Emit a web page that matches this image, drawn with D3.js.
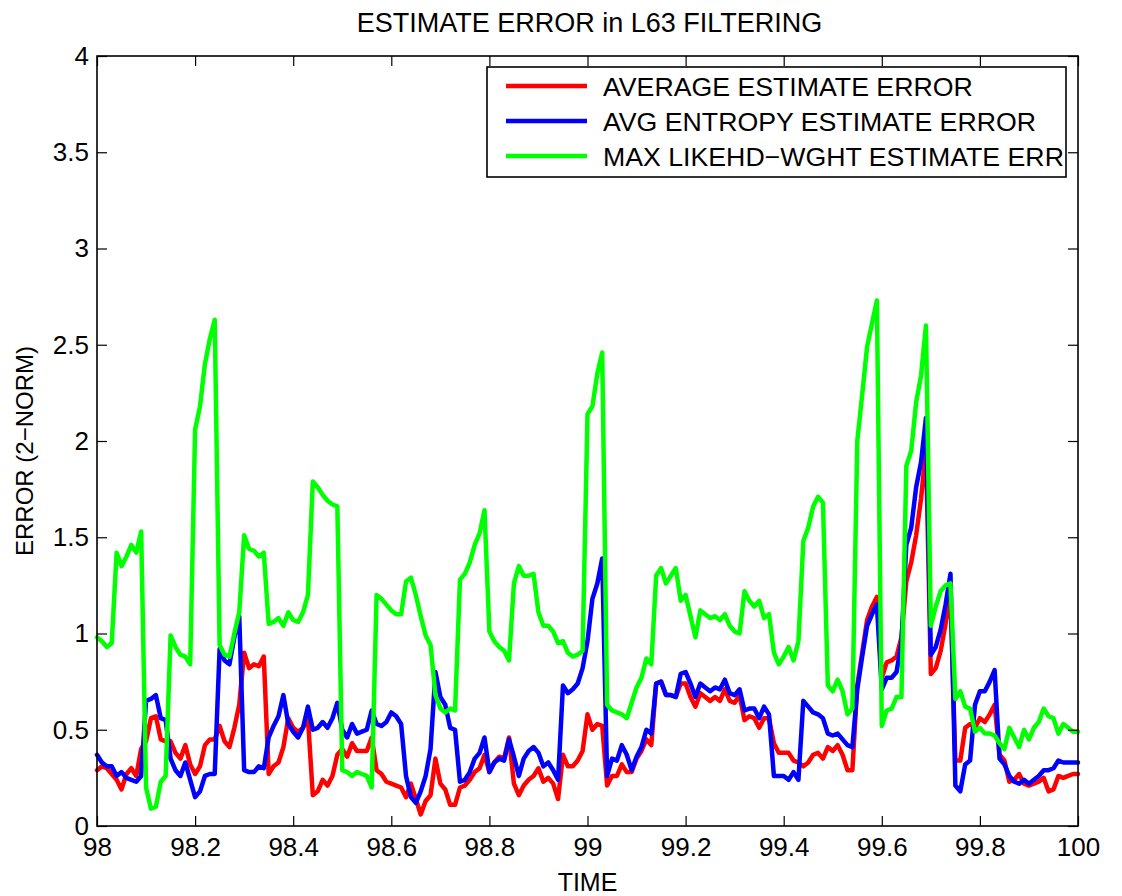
<!DOCTYPE html>
<html>
<head>
<meta charset="utf-8">
<script src="https://cdn.jsdelivr.net/npm/d3@7"></script>
<style>
  html, body { margin: 0; padding: 0; background: #fff; }
  svg { display: block; font-family: "Liberation Sans", Arial, Helvetica, sans-serif; }
</style>
</head>
<body>
<svg id="chart" width="1122" height="896"></svg>
<script>
// Sampling grid: 201 samples from t = 98 to t = 100
const timeStart = 98;
const timeStep = 0.01;

// Average estimate error
const avgError = [
  0.29, 0.31, 0.30, 0.27, 0.24, 0.19, 0.27, 0.30, 0.26, 0.40,
  0.44, 0.56, 0.57, 0.45, 0.44, 0.44, 0.38, 0.35, 0.42, 0.32,
  0.27, 0.31, 0.42, 0.45, 0.45, 0.52, 0.44, 0.41, 0.51, 0.63,
  0.90, 0.82, 0.84, 0.83, 0.88, 0.27, 0.31, 0.33, 0.41, 0.56,
  0.51, 0.49, 0.51, 0.56, 0.16, 0.18, 0.24, 0.21, 0.26, 0.37,
  0.40, 0.36, 0.43, 0.39, 0.39, 0.39, 0.46, 0.29, 0.27, 0.23,
  0.22, 0.21, 0.20, 0.15, 0.22, 0.14, 0.06, 0.13, 0.16, 0.35,
  0.22, 0.19, 0.11, 0.11, 0.20, 0.21, 0.24, 0.28, 0.30, 0.37,
  0.28, 0.33, 0.36, 0.35, 0.46, 0.22, 0.16, 0.21, 0.24, 0.26,
  0.30, 0.23, 0.25, 0.22, 0.14, 0.37, 0.31, 0.31, 0.34, 0.39,
  0.58, 0.50, 0.53, 0.52, 0.21, 0.26, 0.26, 0.32, 0.28, 0.28,
  0.35, 0.39, 0.45, 0.42, 0.74, 0.75, 0.68, 0.68, 0.67, 0.74,
  0.74, 0.67, 0.62, 0.69, 0.67, 0.65, 0.67, 0.65, 0.71, 0.65,
  0.64, 0.68, 0.55, 0.57, 0.56, 0.51, 0.56, 0.56, 0.43, 0.38,
  0.38, 0.38, 0.34, 0.33, 0.31, 0.33, 0.37, 0.38, 0.35, 0.41,
  0.39, 0.42, 0.37, 0.29, 0.29, 0.73, 0.90, 1.07, 1.14, 1.19,
  0.77, 0.85, 0.86, 0.88, 0.98, 1.27, 1.37, 1.51, 1.70, 1.96,
  0.79, 0.82, 0.91, 1.05, 1.20, 0.34, 0.34, 0.51, 0.53, 0.51,
  0.56, 0.54, 0.58, 0.63, 0.37, 0.34, 0.23, 0.24, 0.27, 0.22,
  0.21, 0.22, 0.23, 0.25, 0.18, 0.19, 0.26, 0.25, 0.26, 0.27,
  0.27
];

// Average entropy estimate error
const entropyError = [
  0.37, 0.33, 0.31, 0.31, 0.26, 0.28, 0.25, 0.24, 0.23, 0.26,
  0.65, 0.66, 0.68, 0.56, 0.55, 0.35, 0.29, 0.26, 0.33, 0.24,
  0.15, 0.18, 0.26, 0.27, 0.27, 0.92, 0.86, 0.84, 0.98, 1.09,
  0.29, 0.28, 0.28, 0.31, 0.30, 0.46, 0.52, 0.57, 0.68, 0.53,
  0.49, 0.46, 0.51, 0.62, 0.50, 0.51, 0.54, 0.51, 0.56, 0.64,
  0.50, 0.46, 0.53, 0.48, 0.49, 0.50, 0.60, 0.53, 0.52, 0.54,
  0.59, 0.57, 0.53, 0.26, 0.15, 0.12, 0.18, 0.26, 0.40, 0.80,
  0.67, 0.63, 0.51, 0.50, 0.23, 0.24, 0.28, 0.35, 0.38, 0.46,
  0.28, 0.33, 0.35, 0.34, 0.45, 0.36, 0.26, 0.35, 0.39, 0.41,
  0.38, 0.31, 0.33, 0.29, 0.24, 0.73, 0.69, 0.71, 0.74, 0.82,
  0.96, 1.18, 1.26, 1.39, 0.26, 0.35, 0.34, 0.42, 0.37, 0.29,
  0.36, 0.41, 0.50, 0.48, 0.74, 0.75, 0.68, 0.68, 0.67, 0.79,
  0.80, 0.74, 0.67, 0.74, 0.72, 0.70, 0.72, 0.71, 0.76, 0.69,
  0.68, 0.71, 0.60, 0.61, 0.61, 0.56, 0.62, 0.58, 0.26, 0.26,
  0.26, 0.24, 0.28, 0.24, 0.65, 0.62, 0.59, 0.58, 0.56, 0.48,
  0.47, 0.48, 0.45, 0.42, 0.41, 0.71, 0.88, 1.04, 1.10, 1.15,
  0.71, 0.77, 0.77, 0.80, 0.95, 1.46, 1.55, 1.76, 1.89, 2.12,
  0.89, 0.93, 1.02, 1.15, 1.31, 0.21, 0.18, 0.32, 0.34, 0.63,
  0.70, 0.70, 0.75, 0.81, 0.35, 0.32, 0.26, 0.23, 0.22, 0.24,
  0.22, 0.24, 0.26, 0.29, 0.29, 0.30, 0.34, 0.33, 0.33, 0.33,
  0.33
];

// Max likelihood-weighted estimate error
const maxLikeError = [
  0.98, 0.96, 0.93, 0.95, 1.42, 1.35, 1.40, 1.46, 1.42, 1.53,
  0.20, 0.09, 0.10, 0.23, 0.26, 0.99, 0.93, 0.89, 0.88, 0.84,
  2.06, 2.18, 2.40, 2.53, 2.63, 0.94, 0.89, 0.88, 1.00, 1.11,
  1.51, 1.44, 1.43, 1.40, 1.42, 1.05, 1.06, 1.08, 1.04, 1.11,
  1.07, 1.06, 1.11, 1.20, 1.79, 1.76, 1.72, 1.69, 1.67, 1.66,
  0.29, 0.28, 0.26, 0.28, 0.27, 0.26, 0.20, 1.20, 1.18, 1.15,
  1.12, 1.10, 1.10, 1.27, 1.29, 1.20, 1.09, 0.99, 0.94, 0.68,
  0.61, 0.59, 0.61, 0.60, 1.28, 1.31, 1.37, 1.46, 1.52, 1.64,
  1.01, 0.96, 0.93, 0.91, 0.86, 1.26, 1.35, 1.30, 1.30, 1.31,
  1.11, 1.04, 1.04, 1.01, 0.95, 0.96, 0.90, 0.88, 0.89, 0.91,
  2.14, 2.18, 2.35, 2.46, 0.63, 0.60, 0.59, 0.58, 0.56, 0.64,
  0.72, 0.77, 0.87, 0.84, 1.30, 1.34, 1.26, 1.30, 1.34, 1.17,
  1.20, 1.09, 0.98, 1.12, 1.10, 1.08, 1.09, 1.07, 1.10, 1.04,
  1.01, 1.00, 1.22, 1.17, 1.14, 1.17, 1.08, 1.10, 0.90, 0.84,
  0.88, 0.93, 0.86, 0.96, 1.48, 1.55, 1.66, 1.71, 1.68, 0.73,
  0.70, 0.76, 0.70, 0.58, 0.61, 2.00, 2.24, 2.49, 2.61, 2.73,
  0.52, 0.60, 0.61, 0.67, 0.67, 1.87, 1.95, 2.20, 2.34, 2.60,
  1.04, 1.14, 1.22, 1.25, 1.26, 0.66, 0.70, 0.62, 0.61, 0.49,
  0.51, 0.48, 0.48, 0.47, 0.43, 0.40, 0.51, 0.46, 0.41, 0.50,
  0.45, 0.51, 0.54, 0.61, 0.57, 0.56, 0.48, 0.53, 0.51, 0.49,
  0.49
];

const seriesNames = [
  "AVERAGE ESTIMATE ERROR",
  "AVG ENTROPY ESTIMATE ERROR",
  "MAX LIKEHD\u2212WGHT ESTIMATE ERR"
];
const seriesColors = ["#ff0000", "#0000ff", "#00ff00"];

const xTicks = [98, 98.2, 98.4, 98.6, 98.8, 99, 99.2, 99.4, 99.6, 99.8, 100];
const yTicks = [0, 0.5, 1, 1.5, 2, 2.5, 3, 3.5, 4];

const titleText = "ESTIMATE ERROR in L63 FILTERING";
const xLabelText = "TIME";
const yLabelText = "ERROR  (2\u2212NORM)";

// ---- layout ----
const plot = { left: 97, right: 1078, top: 56, bottom: 826 };
const tickLen = 10;

const svg = d3.select("#chart");

const x = d3.scaleLinear().domain([98, 100]).range([plot.left, plot.right]);
const y = d3.scaleLinear().domain([0, 4]).range([plot.bottom, plot.top]);

const allSeries = [avgError, entropyError, maxLikeError].map((vals, k) => ({
  name: seriesNames[k],
  color: seriesColors[k],
  points: vals.map((v, i) => ({ t: timeStart + i * timeStep, v }))
}));

// data lines (red, then blue, then green on top)
const line = d3.line().x(d => x(d.t)).y(d => y(d.v));
svg.append("g")
  .selectAll("path")
  .data(allSeries)
  .join("path")
  .attr("d", d => line(d.points))
  .attr("fill", "none")
  .attr("stroke", d => d.color)
  .attr("stroke-width", 4.5)
  .attr("stroke-linejoin", "round")
  .attr("stroke-linecap", "round");

// axes with inward ticks on all four sides
const fmt = d => String(d);
const axisFont = 26;

const gBottom = svg.append("g")
  .attr("transform", `translate(0,${plot.bottom})`)
  .call(d3.axisBottom(x).tickValues(xTicks).tickFormat(fmt)
    .tickSizeInner(-tickLen).tickSizeOuter(0).tickPadding(12));
const gTop = svg.append("g")
  .attr("transform", `translate(0,${plot.top})`)
  .call(d3.axisTop(x).tickValues(xTicks).tickFormat("")
    .tickSizeInner(-tickLen).tickSizeOuter(0));
const gLeft = svg.append("g")
  .attr("transform", `translate(${plot.left},0)`)
  .call(d3.axisLeft(y).tickValues(yTicks).tickFormat(fmt)
    .tickSizeInner(-tickLen).tickSizeOuter(0).tickPadding(8));
const gRight = svg.append("g")
  .attr("transform", `translate(${plot.right},0)`)
  .call(d3.axisRight(y).tickValues(yTicks).tickFormat("")
    .tickSizeInner(-tickLen).tickSizeOuter(0));

[gBottom, gTop, gLeft, gRight].forEach(g => {
  g.select(".domain").remove();
  g.selectAll(".tick line").attr("stroke", "#000").attr("stroke-width", 1.2);
  g.selectAll(".tick text")
    .attr("fill", "#000")
    .style("font-family", "'Liberation Sans', Arial, Helvetica, sans-serif")
    .style("font-size", axisFont + "px");
});

// axes box
svg.append("rect")
  .attr("x", plot.left).attr("y", plot.top)
  .attr("width", plot.right - plot.left).attr("height", plot.bottom - plot.top)
  .attr("fill", "none").attr("stroke", "#000").attr("stroke-width", 1.6);

// title and axis labels
svg.append("text")
  .attr("x", (plot.left + plot.right) / 2 + 2).attr("y", 32)
  .attr("text-anchor", "middle")
  .style("font-size", "27px")
  .text(titleText);

svg.append("text")
  .attr("x", (plot.left + plot.right) / 2).attr("y", 891)
  .attr("text-anchor", "middle")
  .style("font-size", "25px")
  .text(xLabelText);

svg.append("text")
  .attr("transform", `translate(33,${(plot.top + plot.bottom) / 2 + 10}) rotate(-90)`)
  .attr("text-anchor", "middle")
  .style("font-size", "24px")
  .text(yLabelText);

// legend
const legend = { x: 487, y: 67, w: 579, h: 110, rowH: 35 };
const gLegend = svg.append("g");
gLegend.append("rect")
  .attr("x", legend.x).attr("y", legend.y)
  .attr("width", legend.w).attr("height", legend.h)
  .attr("fill", "#fff").attr("stroke", "#000").attr("stroke-width", 1.6);

const rows = gLegend.selectAll("g.row")
  .data(allSeries)
  .join("g")
  .attr("class", "row")
  .attr("transform", (d, i) => `translate(${legend.x},${legend.y + 19 + i * legend.rowH})`);
rows.append("line")
  .attr("x1", 19).attr("x2", 100)
  .attr("stroke", d => d.color).attr("stroke-width", 4.5);
rows.append("text")
  .attr("x", 116).attr("dy", "0.36em")
  .style("font-size", "26.7px")
  .text(d => d.name);
</script>
</body>
</html>
